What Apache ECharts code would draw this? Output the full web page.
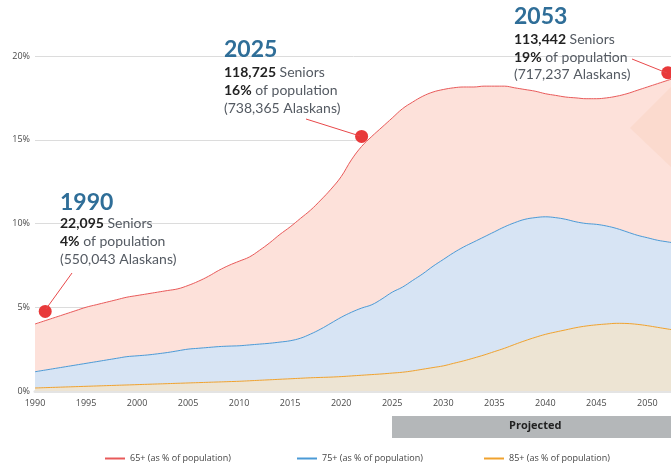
<!DOCTYPE html>
<html>
<head>
<meta charset="utf-8">
<script src="https://cdn.jsdelivr.net/npm/echarts@6/dist/echarts.min.js"></script>
<style>html,body{margin:0;padding:0;background:#fff}#c{width:671px;height:464px}</style>
</head>
<body>
<div id="c"></div>
<script>
var years = [];
for (var y = 1990; y <= 2053; y++) years.push(y);

var pct65 = [4.0,4.2,4.4,4.6,4.8,5.0,5.15,5.3,5.45,5.6,5.7,5.8,5.9,6.0,6.1,6.3,6.55,6.85,7.2,7.5,7.75,8.0,8.4,8.85,9.35,9.8,10.3,10.8,11.4,12.05,12.8,13.8,14.6,15.2,15.75,16.3,16.85,17.25,17.6,17.85,18.0,18.1,18.15,18.15,18.2,18.2,18.2,18.1,18.0,17.9,17.75,17.65,17.55,17.5,17.45,17.45,17.5,17.6,17.75,17.95,18.15,18.35,18.55,18.75];
var pct75 = [1.15,1.25,1.35,1.45,1.55,1.65,1.75,1.85,1.95,2.05,2.1,2.15,2.22,2.3,2.4,2.5,2.55,2.6,2.65,2.68,2.7,2.75,2.8,2.85,2.92,3.0,3.15,3.4,3.7,4.05,4.4,4.7,4.95,5.15,5.5,5.9,6.2,6.6,7.0,7.45,7.85,8.25,8.6,8.9,9.2,9.5,9.8,10.05,10.25,10.35,10.4,10.35,10.25,10.1,10.0,9.95,9.85,9.7,9.5,9.3,9.15,9.0,8.9,8.8];
var pct85 = [0.18,0.2,0.22,0.24,0.26,0.28,0.3,0.32,0.34,0.36,0.38,0.4,0.42,0.44,0.46,0.48,0.5,0.52,0.54,0.56,0.58,0.61,0.64,0.67,0.7,0.73,0.76,0.79,0.81,0.83,0.86,0.9,0.94,0.98,1.02,1.07,1.12,1.2,1.3,1.4,1.5,1.65,1.8,1.97,2.15,2.35,2.55,2.78,3.0,3.2,3.38,3.52,3.65,3.78,3.88,3.95,4.0,4.04,4.03,3.98,3.9,3.8,3.7,3.6];

var seriesNames = ['65+ (as % of population)','75+ (as % of population)','85+ (as % of population)'];
var highlightPoints = [[1991,4.75],[2022,15.2],[2052,19.0]];

function pairs(arr){ return years.map(function(yr,i){ return [yr, arr[i]]; }); }

var chart = echarts.init(document.getElementById('c'));
var annFont = 'Lato';
var rich = {
  b: {fontFamily: annFont, fontSize: 14, fontWeight: 'bold', fill: '#222'},
  r: {fontFamily: annFont, fontSize: 14, fill: '#545a62'}
};
function annText(x, y, str){
  return {type:'text', left:x, top:y, z:100,
    style:{text:str, rich:rich, fill:'#545a62', font:'14px Lato'}};
}
function yearText(x, y, str){
  return {type:'text', left:x, top:y, z:100,
    style:{text:str, fill:'#2f6e98', font:'bold 23px Lato'}};
}
function connector(x1,y1,x2,y2){
  return {type:'line', z:90, shape:{x1:x1,y1:y1,x2:x2,y2:y2}, style:{stroke:'#e8484a', lineWidth:1}};
}
var legendBase = {itemWidth: 20, itemHeight: 2, icon: 'rect', top: 449,
  textStyle:{color:'#444', fontFamily:'Open Sans', fontSize: 9}};
function legendAt(name, left){
  var o = {}; for (var k in legendBase) o[k] = legendBase[k];
  o.data = [name]; o.left = left; return o;
}

chart.setOption({
  animation: false,
  grid: {left: 35, right: -7, top: 56, bottom: 73, containLabel: false, outerBoundsMode: 'none'},
  xAxis: {
    type: 'value', min: 1990, max: 2053, interval: 5,
    axisLine: {show: true, lineStyle: {color: '#e4e4e4', width: 3}},
    axisTick: {show: false},
    splitLine: {show: false},
    axisLabel: {color: '#4a4a4a', fontFamily: 'Open Sans', fontSize: 9, margin: 8, showMaxLabel: false,
      formatter: function(v){return String(v);}}
  },
  yAxis: {
    type: 'value', min: 0, max: 20, interval: 5,
    axisLine: {show: false}, axisTick: {show: false},
    splitLine: {lineStyle: {color: '#dcdcdc', width: 1}},
    axisLabel: {color: '#4a4a4a', fontFamily: 'Open Sans', fontSize: 9, margin: 5, formatter: '{value}%'}
  },
  legend: [legendAt(seriesNames[0], 100), legendAt(seriesNames[1], 292), legendAt(seriesNames[2], 479)],
  series: [
    {name: seriesNames[0], type: 'line', data: pairs(pct65), smooth: 0.4, showSymbol: false, z: 2,
     itemStyle:{color:'#e85a5a'}, lineStyle:{color:'#e85a5a', width:1},
     areaStyle:{color:'#fde1da', opacity:1}},
    {name: seriesNames[1], type: 'line', data: pairs(pct75), smooth: 0.4, showSymbol: false, z: 3,
     itemStyle:{color:'#4b9ad6'}, lineStyle:{color:'#4b9ad6', width:1},
     areaStyle:{color:'#d7e4f4', opacity:1}},
    {name: seriesNames[2], type: 'line', data: pairs(pct85), smooth: 0.4, showSymbol: false, z: 4,
     itemStyle:{color:'#f0a22e'}, lineStyle:{color:'#f0a22e', width:1},
     areaStyle:{color:'#ede4d3', opacity:1}},
    {name: 'points', type: 'scatter', data: highlightPoints, symbolSize: 13, z: 20,
     itemStyle:{color:'#e8393a', opacity: 1}, clip: false}
  ],
  graphic: [
    {type:'polygon', z:5, shape:{points:[[630,128],[671,87],[700,128],[671,167]]}, style:{fill:'rgba(246,200,170,0.25)'}},
    {type:'rect', left: 392, top: 416, shape:{width: 290, height: 22}, style:{fill:'#b4b7b9'}},
    {type:'text', left: 509, top: 420, style:{text:'Projected', fill:'#222', font:'bold 11px "Open Sans"'}},

    yearText(60, 191, '1990'),
    annText(60, 216, '{b|22,095} {r|Seniors}'),
    annText(60, 234, '{b|4%} {r|of population}'),
    annText(60, 252, '{r|(550,043 Alaskans)}'),
    connector(72, 273, 46, 309),

    yearText(224, 38, '2025'),
    annText(224, 65, '{b|118,725} {r|Seniors}'),
    annText(224, 83, '{b|16%} {r|of population}'),
    annText(224, 101, '{r|(738,365 Alaskans)}'),
    connector(306, 119, 360, 136),

    yearText(514, 5, '2053'),
    annText(514, 32, '{b|113,442} {r|Seniors}'),
    annText(514, 50, '{b|19%} {r|of population}'),
    annText(514, 67, '{r|(717,237 Alaskans)}'),
    connector(632, 59, 667, 73)
  ]
});
</script>
</body>
</html>
